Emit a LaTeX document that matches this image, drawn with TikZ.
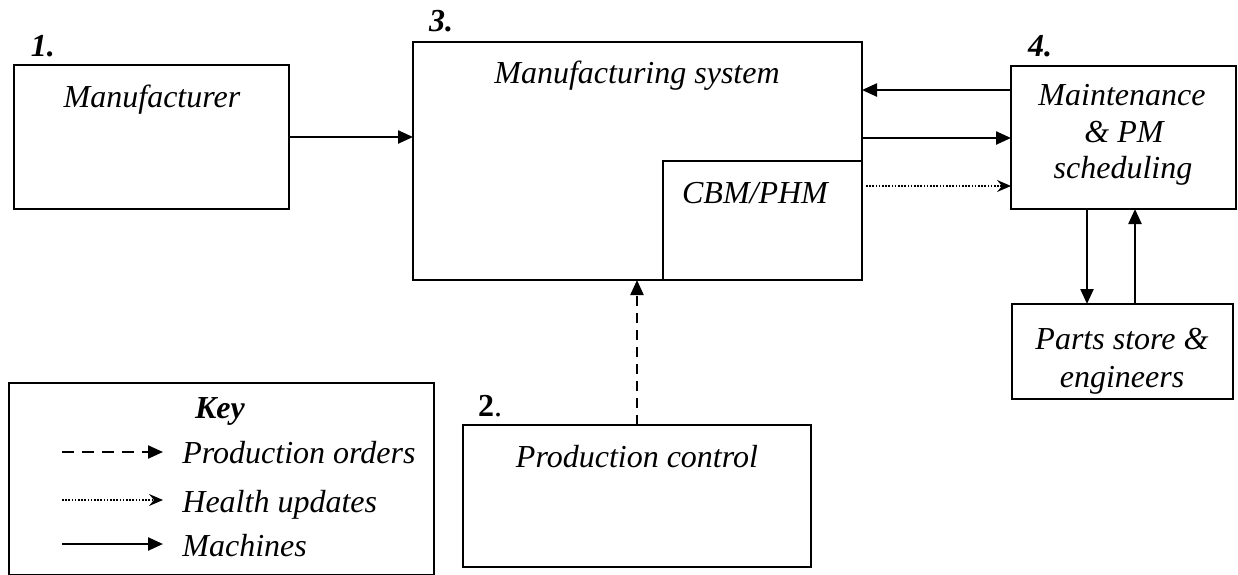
\documentclass[tikz,border=0pt]{standalone}
\usepackage{fontspec}
\setmainfont{Liberation Serif}
\usetikzlibrary{arrows.meta}

\begin{document}
\begin{tikzpicture}[x=0.5pt,y=-0.5pt,
  box/.style={draw, line width=1pt, inner sep=0pt, outer sep=0pt},
  txt/.style={font=\fontsize{16}{18}\selectfont\itshape, inner sep=0pt, anchor=base},
  num/.style={font=\fontsize{16}{18}\selectfont\bfseries\itshape, inner sep=0pt, anchor=base},
  tip/.style={-{Triangle[length=7.5pt,width=6.5pt]}},
  mach/.style={line width=1.2pt, tip},
  order/.style={line width=1.1pt, dash pattern=on 5pt off 3.5pt, tip},
  health/.style={line width=0.7pt, dash pattern=on 0.8pt off 0.8pt, -{Stealth[length=7pt,width=6pt,inset=2.5pt]}}]

\useasboundingbox (0,0) rectangle (1238,574);

% Blocks
\node[box, minimum width=137.5pt, minimum height=72pt]   (man)   at (151.5,137) {};
\node[box, minimum width=224.5pt, minimum height=119pt]  (sys)   at (637.5,161) {};
\node[box, minimum width=99.5pt,  minimum height=59.5pt] (cbm)   at (762.5,220.5) {};
\node[box, minimum width=112.5pt, minimum height=71.5pt] (mnt)   at (1123.5,137.5) {};
\node[box, minimum width=110.5pt, minimum height=47.5pt] (parts) at (1122.5,351.5) {};
\node[box, minimum width=174pt,   minimum height=71pt]   (prod)  at (637,496) {};
\node[box, minimum width=212.5pt, minimum height=96pt]   (key)   at (221.5,479) {};

% Block numbers
\node[num] (n1) at (43,56) {1.};
\node[num] (n3) at (441,31) {3.};
\node[num] (n4) at (1040,56) {4.};
\node[inner sep=0pt, anchor=base, font=\fontsize{16}{18}\selectfont] (n2) at (490,416) {\textbf{2}.};

% Block texts
\node[txt] (tman)   at (152,107) {Manufacturer};
\node[txt] (tsys)   at (637,83)  {Manufacturing system};
\node[txt] (tcbm)   at (755,203) {CBM/PHM};
\node[txt] (tmnt1)  at (1122,105) {Maintenance};
\node[txt] (tmnt2)  at (1124,142) {\& PM};
\node[txt] (tmnt3)  at (1123,178) {scheduling};
\node[txt] (tpart1) at (1122,349) {Parts store \&};
\node[txt] (tpart2) at (1122,387) {engineers};
\node[txt] (tprod)  at (637,467) {Production control};

% Flows
\coordinate (yback) at (0,90);
\coordinate (yfwd)  at (0,138);
\coordinate (yhl)   at (0,186);
\coordinate (xdown) at (1087,0);
\coordinate (xup)   at (1135,0);
\coordinate (hlstart) at (866,186);

\draw[mach]   (man.east) -- (sys.west |- man.east);
\draw[mach]   (mnt.west |- yback) -- (sys.east |- yback);
\draw[mach]   (sys.east |- yfwd) -- (mnt.west |- yfwd);
\draw[health] (hlstart) -- (mnt.west |- yhl);
\draw[mach]   (mnt.south -| xdown) -- (parts.north -| xdown);
\draw[mach]   (parts.north -| xup) -- (mnt.south -| xup);
\draw[order]  (prod.north) -- (sys.south -| prod.north);

% Key
\node[num] (tkey) at (220,418) {Key};
\coordinate (ka1) at (62,452);  \coordinate (kb1) at (163,452);
\coordinate (ka2) at (62,500);  \coordinate (kb2) at (163,500);
\coordinate (ka3) at (62,544);  \coordinate (kb3) at (163,544);
\draw[line width=1.1pt, dash pattern=on 6pt off 4pt, tip] (ka1) -- (kb1);
\draw[health] (ka2) -- (kb2);
\draw[mach] (ka3) -- (kb3);
\node[txt, anchor=base west] (tk1) at (182,463) {Production orders};
\node[txt, anchor=base west] (tk2) at (182,512) {Health updates};
\node[txt, anchor=base west] (tk3) at (182,556) {Machines};
\end{tikzpicture}
\end{document}
